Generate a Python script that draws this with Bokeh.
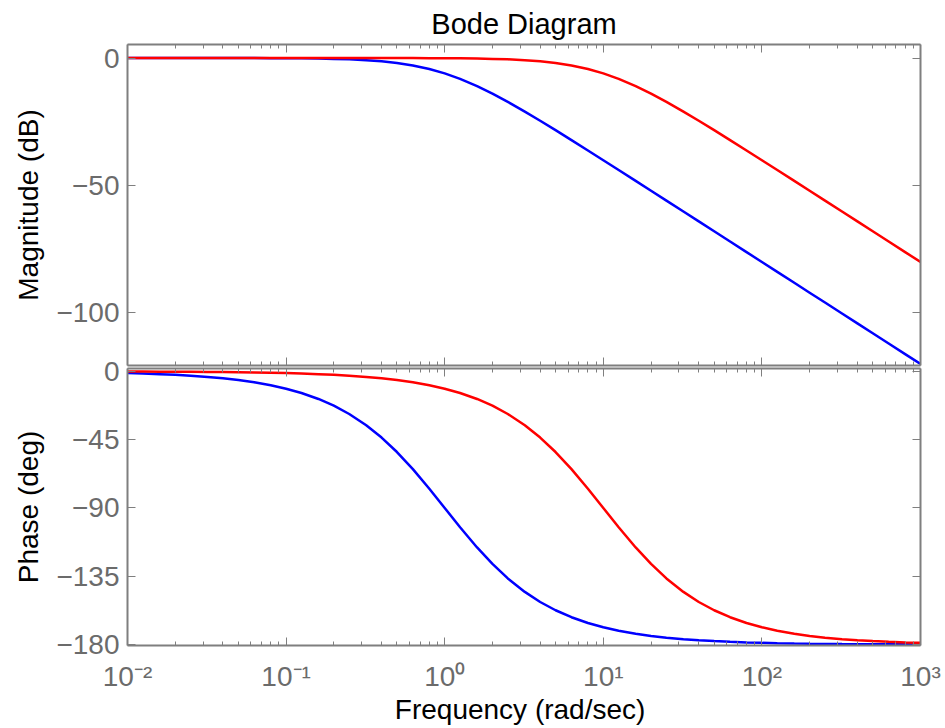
from bokeh.plotting import figure
from bokeh.models import (Range1d, LogAxis, LinearAxis, FixedTicker,
                          CustomJSTickFormatter, ColumnDataSource)
from bokeh.layouts import column
from bokeh.embed import file_html
from bokeh.resources import INLINE

# ---- data (frequency in rad/sec) ----
freq = [0.01, 0.0125, 0.016, 0.02, 0.025, 0.032, 0.04, 0.05, 0.063, 0.08,
        0.1, 0.125, 0.16, 0.2, 0.25, 0.32, 0.4, 0.5, 0.63, 0.8,
        1, 1.25, 1.6, 2, 2.5, 3.2, 4, 5, 6.3, 8,
        10, 12.5, 16, 20, 25, 32, 40, 50, 63, 80,
        100, 125, 160, 200, 250, 320, 400, 500, 630, 800, 1000]

blue_mag = [-0.001, -0.001, -0.002, -0.003, -0.005, -0.009, -0.014, -0.022, -0.034, -0.055,
            -0.086, -0.135, -0.220, -0.341, -0.527, -0.847, -1.289, -1.938, -2.903, -4.297,
            -6.021, -8.173, -11.029, -13.979, -17.207, -21.015, -24.609, -28.299, -32.190, -36.258,
            -40.086, -43.932, -48.199, -52.063, -55.931, -60.214, -64.088, -67.962, -71.976, -76.125,
            -80.001, -83.877, -88.165, -92.041, -95.918, -100.206, -104.082, -107.959, -111.974, -116.124,
            -120.0]

red_mag = [0.0, 0.0, 0.0, 0.0, -0.0001, -0.0001, -0.0001, -0.0002, -0.0003, -0.0006,
           -0.001, -0.001, -0.002, -0.003, -0.005, -0.009, -0.014, -0.022, -0.034, -0.055,
           -0.086, -0.135, -0.220, -0.341, -0.527, -0.847, -1.289, -1.938, -2.903, -4.297,
           -6.021, -8.173, -11.029, -13.979, -17.207, -21.015, -24.609, -28.299, -32.190, -36.258,
           -40.086, -43.932, -48.199, -52.063, -55.931, -60.214, -64.088, -67.962, -71.976, -76.125,
           -80.001]

blue_phase = [-1.146, -1.432, -1.833, -2.292, -2.864, -3.666, -4.581, -5.725, -7.210, -9.148,
              -11.421, -14.250, -18.181, -22.620, -28.072, -35.489, -43.603, -53.130, -64.420, -77.320,
              -90.0, -102.680, -115.989, -126.870, -136.397, -145.292, -151.928, -157.380, -161.961, -165.750,
              -168.579, -170.852, -172.847, -174.275, -175.419, -176.420, -177.136, -177.708, -178.181, -178.568,
              -178.854, -179.083, -179.284, -179.427, -179.542, -179.642, -179.714, -179.771, -179.818, -179.857,
              -179.885]

red_phase = [-0.115, -0.143, -0.183, -0.229, -0.286, -0.367, -0.458, -0.573, -0.722, -0.917,
             -1.146, -1.432, -1.833, -2.292, -2.864, -3.666, -4.581, -5.725, -7.210, -9.148,
             -11.421, -14.250, -18.181, -22.620, -28.072, -35.489, -43.603, -53.130, -64.420, -77.320,
             -90.0, -102.680, -115.989, -126.870, -136.397, -145.292, -151.928, -157.380, -161.961, -165.750,
             -168.579, -170.852, -172.847, -174.275, -175.419, -176.420, -177.136, -177.708, -178.181, -178.568,
             -178.854]

decade_ticks = [0.01, 0.1, 1, 10, 100, 1000]
minor_mantissas = [2, 3, 4, 5, 6, 7, 8, 9]
mag_ticks = [-100, -50, 0]
phase_ticks = [-180, -135, -90, -45, 0]

title_text = "Bode Diagram"
mag_label = "Magnitude (dB)"
phase_label = "Phase (deg)"
freq_label = "Frequency  (rad/sec)"

# ---- style ----
FONT = "Liberation Sans"
AXC = "#7f7f7f"
TICKTXT = "#6b6b6b"
TICK_FS = "28px"
LABEL_FS = "28px"
OVERLAP = 22

src = ColumnDataSource(dict(freq=freq, blue_mag=blue_mag, red_mag=red_mag,
                            blue_phase=blue_phase, red_phase=red_phase))

minor_x = [m * d for d in decade_ticks[:-1] for m in minor_mantissas]


def x_ticker():
    return FixedTicker(ticks=decade_ticks, minor_ticks=minor_x)


sup_fmt = CustomJSTickFormatter(code=r"""
const m = {"-": "\u207b", "0": "\u2070", "1": "\u00b9", "2": "\u00b2", "3": "\u00b3",
           "4": "\u2074", "5": "\u2075", "6": "\u2076", "7": "\u2077", "8": "\u2078", "9": "\u2079"};
const e = Math.round(Math.log10(tick));
let s = "";
for (const c of String(e)) { s += m[c]; }
return "10" + s;
""")


def minus_fmt():
    return CustomJSTickFormatter(code=r"""
return tick < 0 ? "\u2212" + String(Math.abs(tick)) : String(tick);
""")


def style_axis(ax, show_labels):
    ax.axis_line_color = AXC
    ax.axis_line_width = 2
    ax.major_tick_line_color = AXC
    ax.major_tick_line_width = 1
    ax.minor_tick_line_color = AXC
    ax.minor_tick_line_width = 1
    ax.major_tick_in = 8
    ax.major_tick_out = 0
    ax.minor_tick_in = 4
    ax.minor_tick_out = 0
    ax.major_label_text_font = FONT
    ax.major_label_text_font_size = TICK_FS
    ax.major_label_text_color = TICKTXT if show_labels else None


def make_fig(height, yr, yticks, ylabel, top_border, bottom_border, show_x):
    p = figure(width=944, height=height, x_axis_type="log",
               x_range=Range1d(0.01, 1000), y_range=yr,
               output_backend="svg", toolbar_location=None,
               min_border_left=127, min_border_right=24,
               min_border_top=top_border, min_border_bottom=bottom_border)
    p.outline_line_color = None
    p.xgrid.visible = False
    p.ygrid.visible = False
    p.background_fill_color = "white"
    p.border_fill_color = "white"

    # bottom x axis
    xb = p.below[0]
    xb.ticker = x_ticker()
    xb.formatter = sup_fmt
    style_axis(xb, show_x)
    xb.major_label_standoff = 15
    # top x axis (ticks only)
    xt = LogAxis(ticker=x_ticker())
    style_axis(xt, False)
    p.add_layout(xt, "above")

    # left y axis
    yl = p.left[0]
    yl.ticker = FixedTicker(ticks=yticks)
    yl.formatter = minus_fmt()
    style_axis(yl, True)
    yl.minor_tick_line_color = None
    yl.major_label_standoff = 8
    yl.axis_label = ylabel
    yl.axis_label_text_font = FONT
    yl.axis_label_text_font_size = LABEL_FS
    yl.axis_label_text_font_style = "normal"
    yl.axis_label_text_color = "black"
    yl.axis_label_standoff = 9
    # right y axis (ticks only)
    yr_ax = LinearAxis(ticker=FixedTicker(ticks=yticks))
    style_axis(yr_ax, False)
    yr_ax.minor_tick_line_color = None
    p.add_layout(yr_ax, "right")
    return p, xb


top, _ = make_fig(367, Range1d(-120.6, 5.3), mag_ticks, mag_label, 44, 2, False)
top.title.text = title_text
top.title.align = "center"
top.title.text_font = FONT
top.title.text_font_size = "29px"
top.title.text_font_style = "normal"
top.title.text_color = "black"
top.title.standoff = 9

top.line("freq", "blue_mag", source=src, line_color="#0000ff", line_width=2.5)
top.line("freq", "red_mag", source=src, line_color="#ff0000", line_width=2.5)

# the phase panel overlaps the magnitude canvas a little so its "0" label is not clipped
bot, bx = make_fig(360 + OVERLAP, Range1d(-180.6, 1.9), phase_ticks, phase_label,
                   1 + OVERLAP, 77, True)
bot.border_fill_color = None
bot.border_fill_alpha = 0.0
bot.margin = (-OVERLAP, 0, 0, 0)
bx.axis_label = freq_label
bx.axis_label_text_font = FONT
bx.axis_label_text_font_size = LABEL_FS
bx.axis_label_text_font_style = "normal"
bx.axis_label_text_color = "black"
bx.axis_label_standoff = -1

bot.line("freq", "blue_phase", source=src, line_color="#0000ff", line_width=2.5)
bot.line("freq", "red_phase", source=src, line_color="#ff0000", line_width=2.5)

layout = column(top, bot, spacing=0)
open("out.html", "w").write(file_html(layout, INLINE))
